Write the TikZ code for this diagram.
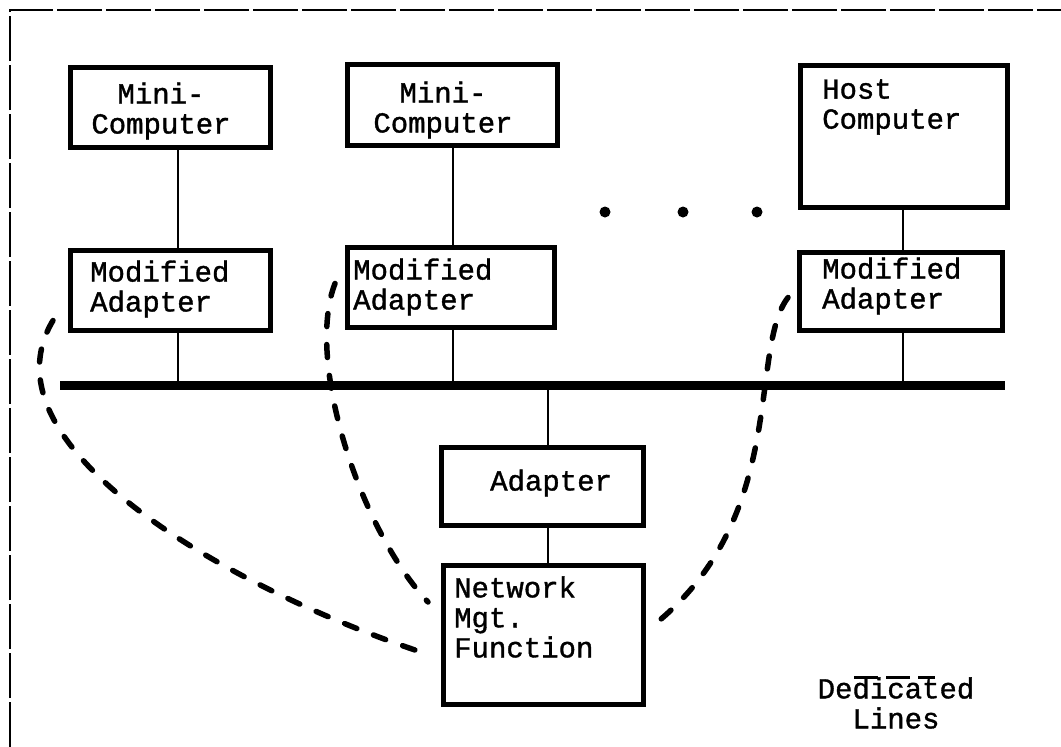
\documentclass[tikz,border=0pt]{standalone}
\usepackage{fontspec}
\newfontfamily\tw[FakeBold=1.2]{Liberation Mono}
\usetikzlibrary{calc}
\begin{document}
\begin{tikzpicture}[x=1pt,y=-1pt,
  box/.style={draw, line width=5pt, inner sep=0pt},
  txt/.style={font=\tw\fontsize{29}{30}\selectfont, align=left, inner sep=0pt, anchor=west},
  ctxt/.style={font=\tw\fontsize{29}{30}\selectfont, align=center, inner sep=0pt},
  link/.style={line width=2.5pt},
  bus/.style={line width=9pt},
  dline/.style={line width=5.5pt, line cap=round, dash pattern=on 13pt off 18pt},
  frame/.style={line width=2.5pt, dash pattern=on 45pt off 4pt},
  dotmark/.style={circle, fill, inner sep=0pt, minimum size=11pt}]
\useasboundingbox (0,0) rectangle (1061,747);
% frame
\coordinate (fTL) at (10,10);
\coordinate (fTR) at (1061,10);
\coordinate (fBL) at (10,747);
\draw[frame] (fBL) -- (fTL) -- (fTR);
% boxes
\node[box, minimum width=200, minimum height=80] (mini1) at (170.5,107.5) {};
\node[box, minimum width=210, minimum height=81] (mini2) at (452.5,105) {};
\node[box, minimum width=207, minimum height=142] (host) at (904,136.5) {};
\node[box, minimum width=200, minimum height=80] (ma1) at (170.5,290.5) {};
\node[box, minimum width=207, minimum height=80] (ma2) at (451,287.5) {};
\node[box, minimum width=203, minimum height=78] (ma3) at (901,291.5) {};
\node[box, minimum width=202, minimum height=78] (adapter) at (542.5,486.5) {};
\node[box, minimum width=200, minimum height=139] (nmf) at (543.5,635) {};
% texts
\node[ctxt] (mini1t) at (161,111) {Mini-\\Computer};
\node[ctxt] (mini2t) at (443,110) {Mini-\\Computer};
\node[txt] (hostt) at (822,107) {Host\\Computer};
\node[txt] (ma1t) at (90,289) {Modified\\Adapter};
\node[txt] (ma2t) at (353,287) {Modified\\Adapter};
\node[txt] (ma3t) at (822,286) {Modified\\Adapter};
\node[txt] (adaptert) at (490,483) {Adapter};
\node[txt] (nmft) at (454,617) {Network\\Mgt.\\Function};
\node[ctxt] (ded) at (896,703) {Dedicated\\Lines};
\draw[line width=3pt, dash pattern=on 24pt off 8pt] ([xshift=-42]ded.north) -- ([xshift=39]ded.north);
% bus
\coordinate (busL) at (60,385);
\coordinate (busR) at (1005,385);
\draw[bus] (busL) -- (busR);
% vertical links
\draw[link] ([xshift=7.5]mini1.south) -- ([xshift=7.5]mini1.south |- ma1.north);
\draw[link] ([xshift=7.5]ma1.south) -- ([xshift=7.5]ma1.south |- busL);
\draw[link] ([xshift=0.5]mini2.south) -- ([xshift=0.5]mini2.south |- ma2.north);
\draw[link] ([xshift=2]ma2.south) -- ([xshift=2]ma2.south |- busL);
\draw[link] ([xshift=-1]host.south) -- ([xshift=-1]host.south |- ma3.north);
\draw[link] ([xshift=2]ma3.south) -- ([xshift=2]ma3.south |- busL);
\draw[link] ([xshift=5.5]adapter.north) -- ([xshift=5.5]adapter.north |- busL);
\draw[link] ([xshift=5.5]adapter.south) -- ([xshift=5.5]adapter.south |- nmf.north);
% dots
\node[dotmark] (d1) at (605,212) {};
\node[dotmark] (d2) at (683,212) {};
\node[dotmark] (d3) at (757,212) {};
% dedicated lines
\coordinate (s1) at ($(ma1.west)+(-15,30)$);
\coordinate (e1) at ($(nmf.west)+(-11,20)$);
\coordinate (s2) at ($(ma2.west)+(-10,-4)$);
\coordinate (e2) at ($(nmf.west)+(-13,-33)$);
\coordinate (s3) at ($(ma3.west)+(-9,6)$);
\coordinate (e3) at ($(nmf.east)+(4,-7)$);
\draw[dline] (s1) .. controls +(-75,125) and +(-200,-65) .. (e1);
\draw[dline] (s2) .. controls +(-30,77) and +(-68,-72) .. (e2);
\draw[dline] (s3) .. controls +(-40,52) and +(140,-108) .. (e3);
\end{tikzpicture}
\end{document}
